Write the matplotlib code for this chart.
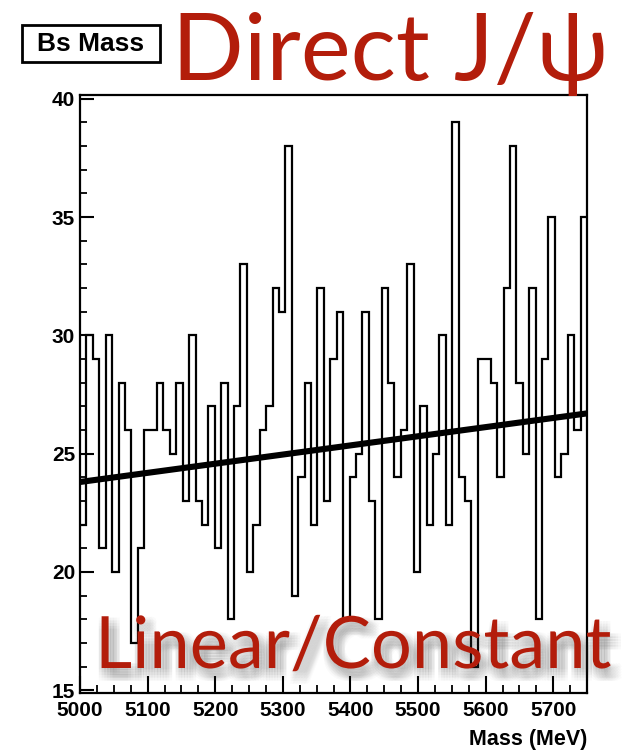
import numpy as np
import matplotlib
matplotlib.use("Agg")
import matplotlib.pyplot as plt
from matplotlib.ticker import MultipleLocator
from matplotlib.patches import Rectangle
import matplotlib.patheffects as pe

# ---- data ----
mass_lo, mass_hi = 5000, 5750
counts = [22, 30, 29, 21, 30, 20, 28, 26, 17, 21,
          26, 26, 28, 26, 25, 28, 23, 30, 23, 22,
          27, 21, 28, 18, 27, 33, 20, 22, 26, 27,
          32, 31, 38, 19, 24, 28, 22, 32, 23, 29,
          31, 18, 24, 25, 31, 23, 18, 32, 28, 24,
          26, 33, 20, 27, 22, 25, 30, 22, 39, 24,
          23, 16, 29, 29, 28, 24, 32, 38, 28, 25,
          32, 18, 29, 35, 24, 25, 30, 26, 35]
fit_x = [5000, 5750]
fit_y = [23.8, 26.7]
x_ticks = [5000, 5100, 5200, 5300, 5400, 5500, 5600, 5700]
y_ticks = [15, 20, 25, 30, 35, 40]

RED = "#B31D0B"
TICKFONT = "Liberation Sans"

edges = np.linspace(mass_lo, mass_hi, len(counts) + 1)

fig = plt.figure(figsize=(6.27, 7.55), dpi=100)
ax = fig.add_axes([80 / 627, 1 - 693 / 755, 507 / 627, 598 / 755])

ax.stairs(counts, edges, baseline=None, color="black", lw=1.6, zorder=3)
ax.plot(fit_x, fit_y, color="black", lw=4.4, solid_capstyle="butt", zorder=4)

ax.set_xlim(mass_lo, mass_hi)
ax.set_ylim(14.88, 40.16)
ax.set_xticks(x_ticks)
ax.set_yticks(y_ticks)
ax.xaxis.set_minor_locator(MultipleLocator(25))
ax.yaxis.set_minor_locator(MultipleLocator(1))
ax.tick_params(axis="x", which="major", direction="in", length=12, width=1.5, pad=6)
ax.tick_params(axis="x", which="minor", direction="in", length=6, width=1.3)
ax.tick_params(axis="y", which="major", direction="in", length=10, width=1.5, pad=3.5)
ax.tick_params(axis="y", which="minor", direction="in", length=5, width=1.3)
ax.tick_params(top=False, right=False, which="both")
for lab in ax.get_xticklabels() + ax.get_yticklabels():
    lab.set_fontfamily(TICKFONT)
    lab.set_fontweight("bold")
    lab.set_fontsize(15)
for s in ax.spines.values():
    s.set_linewidth(1.6)

fig.text(587 / 627, 1 - 740 / 755, "Mass (MeV)", ha="right", va="center",
         family=TICKFONT, fontweight="bold", fontsize=15.5)

# title box
fig.patches.append(Rectangle((22 / 627, 1 - 62 / 755), 138 / 627, 37 / 755,
                             transform=fig.transFigure, fill=False,
                             edgecolor="black", lw=2))
fig.text(91 / 627, 1 - 44 / 755, "Bs Mass", ha="center", va="center",
         family=TICKFONT, fontweight="bold", fontsize=19)

# big red labels
fig.text(172 / 627, 1 - 80 / 755, "Direct J/\u03c8", ha="left", va="baseline",
         family=["Lato", "DejaVu Sans"], fontsize=68, color=RED)

shadows = []
for dx in (-2, 0, 2, 4, 6, 8):
    for dy in (-1, -3, -5, -7, -9):
        shadows.append(pe.SimplePatchShadow(offset=(dx, dy), shadow_rgbFace="0.25",
                                            alpha=0.025))
shadows.append(pe.Normal())
fig.text(95 / 627, 1 - 668 / 755, "Linear/Constant", ha="left", va="baseline",
         family=["Lato", "DejaVu Sans"], fontsize=52, color=RED,
         path_effects=shadows, zorder=10)

fig.savefig("out.png", dpi=100)
